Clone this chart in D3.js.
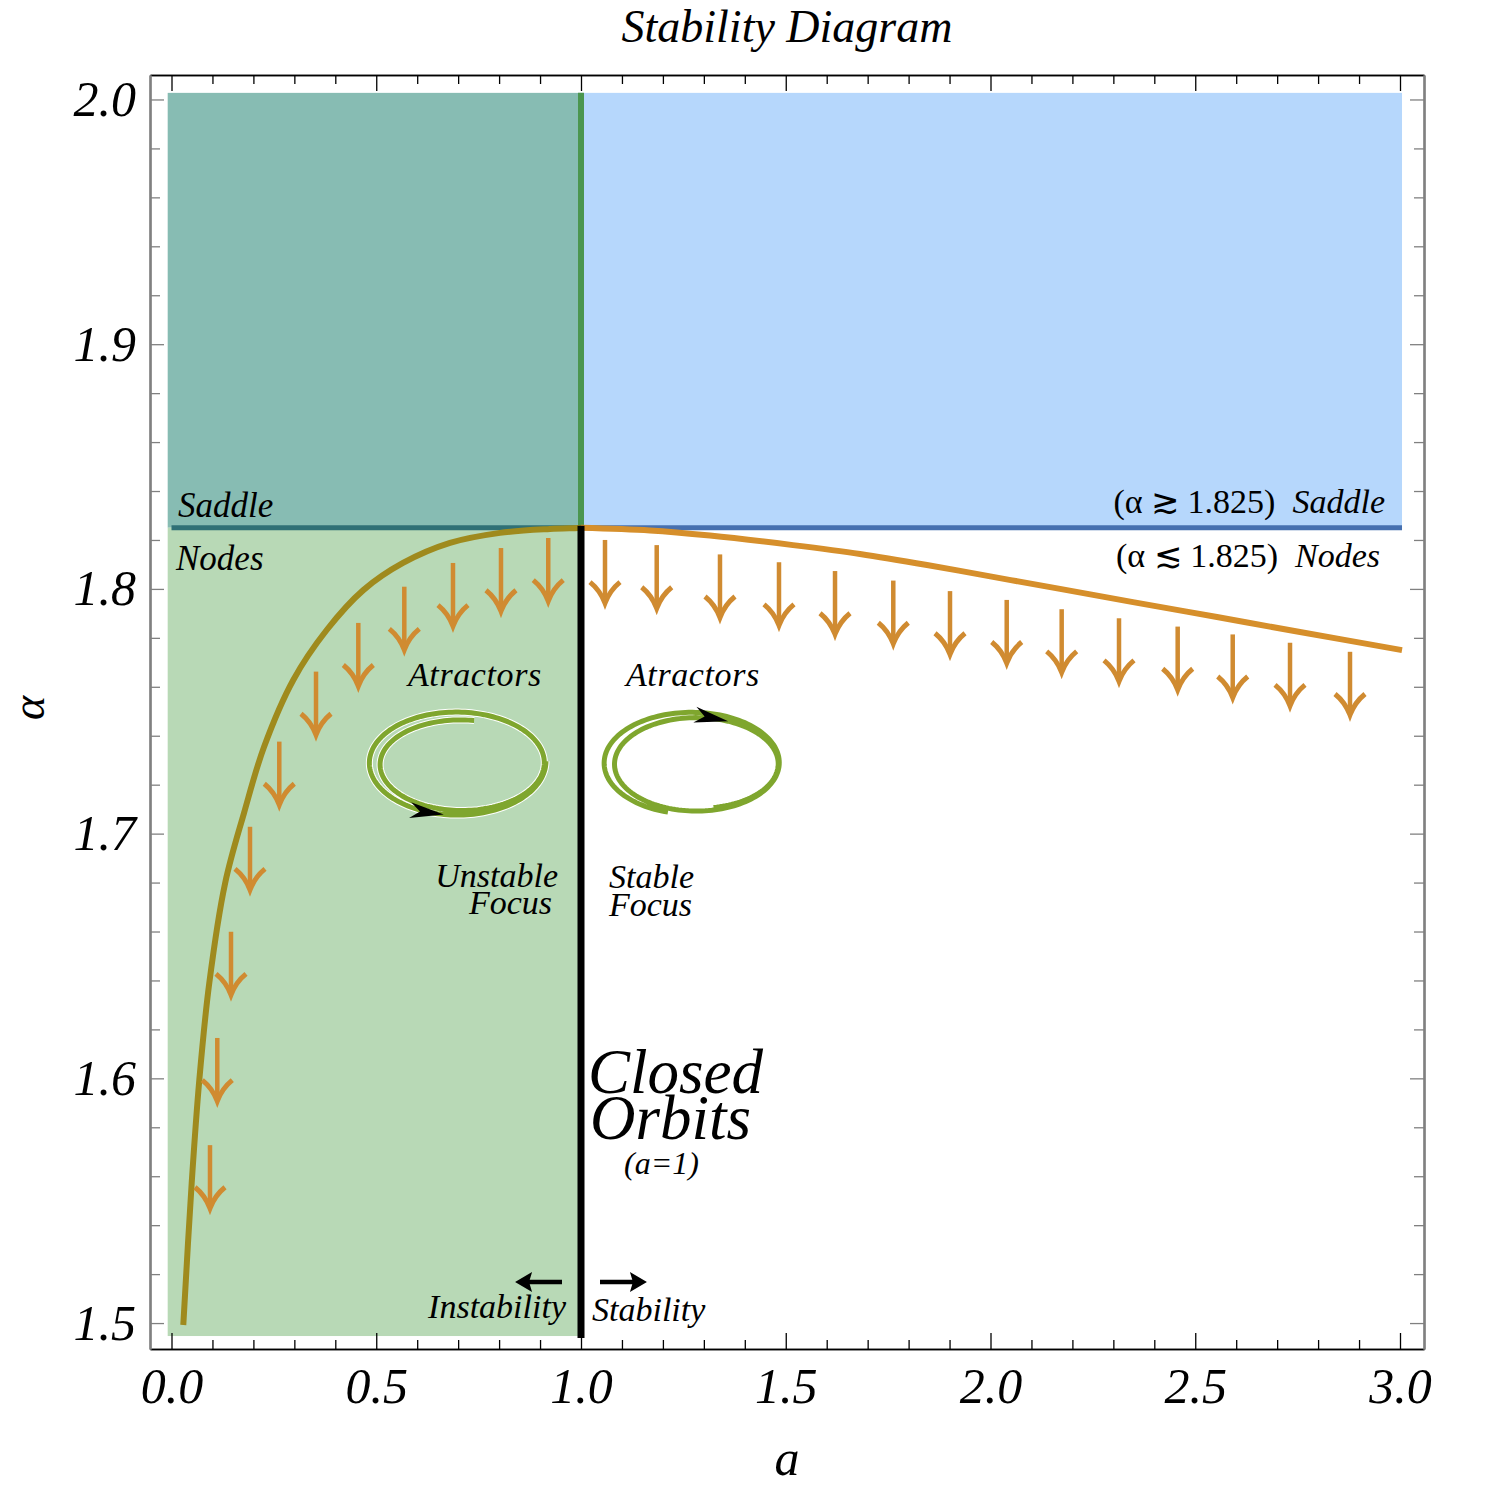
<!DOCTYPE html>
<html>
<head>
<meta charset="utf-8">
<script src="https://cdn.jsdelivr.net/npm/d3@7"></script>
<style>
  html, body { margin: 0; padding: 0; background: #fff; }
  svg { display: block; }
  text { font-family: "Liberation Serif", "Times New Roman", "DejaVu Serif", serif; }
</style>
</head>
<body>
<div id="chart"></div>
<script>
(function (d3) {
    "use strict";

    /***** Data *****/

    // tick values
    const xMajorTicks = [0, 0.5, 1.0, 1.5, 2.0, 2.5, 3.0];
    const xMinorTicks = [0.1, 0.2, 0.3, 0.4, 0.6, 0.7, 0.8, 0.9, 1.1, 1.2, 1.3, 1.4,
                         1.6, 1.7, 1.8, 1.9, 2.1, 2.2, 2.3, 2.4, 2.6, 2.7, 2.8, 2.9];
    const yMajorTicks = [1.5, 1.6, 1.7, 1.8, 1.9, 2.0];
    const yMinorTicks = [1.52, 1.54, 1.56, 1.58, 1.62, 1.64, 1.66, 1.68, 1.72, 1.74, 1.76, 1.78,
                         1.82, 1.84, 1.86, 1.88, 1.92, 1.94, 1.96, 1.98];

    // critical values
    const aCritical = 1.0;
    const alphaSaddle = 1.825;

    // shaded regions [a0, a1, alpha0, alpha1]
    const regionTeal  = [-0.0093, 1.0, 1.825, 2.0027];
    const regionGreen = [-0.0093, 1.0, 1.4947, 1.825];
    const regionBlue  = [1.0, 3.0049, 1.825, 2.0027];

    // boundary curve, a < 1 part
    const curveLeft = [
        [0.0288, 1.4992], [0.0493, 1.5572], [0.0679, 1.5993], [0.0923, 1.6390],
        [0.1310, 1.6798], [0.1770, 1.7084], [0.2259, 1.7354], [0.2974, 1.7628],
        [0.3790, 1.7832], [0.4684, 1.7995], [0.5653, 1.8106], [0.6801, 1.8188],
        [0.8022, 1.8229], [0.9243, 1.8245], [0.9927, 1.8249], [1.0, 1.825]
    ];
    // boundary curve, a > 1 part
    const curveRight = [
        [1.0, 1.825], [1.1685, 1.8239], [1.3150, 1.8218], [1.5177, 1.8179],
        [1.6813, 1.8143], [1.8449, 1.8098], [2.0061, 1.8049], [2.1697, 1.8000],
        [2.3480, 1.7946], [2.5531, 1.7885], [2.7558, 1.7824], [3.0049, 1.7750]
    ];

    // down arrows below the curve: [a, alpha of tail]
    const arrowsLeft = [
        [0.920, 1.8208], [0.8046, 1.8167], [0.6874, 1.8106], [0.5685, 1.8009],
        [0.4562, 1.7861], [0.3529, 1.7662], [0.2632, 1.7376], [0.1917, 1.7028],
        [0.1453, 1.6599], [0.1118, 1.6165], [0.0940, 1.5727]
    ];
    const arrowsRight = [
        [1.0586, 1.8200], [1.1849, 1.8179], [1.3394, 1.8141], [1.4835, 1.8109],
        [1.6203, 1.8073], [1.7626, 1.8034], [1.9011, 1.7991], [2.0396, 1.7955],
        [2.1738, 1.7917], [2.3138, 1.7880], [2.4571, 1.7846], [2.5915, 1.7814],
        [2.7314, 1.7780], [2.8779, 1.7743]
    ];
    const arrowLength = 0.0258;   // in alpha units

    // stability arrows at the bottom: [a from, a to, alpha]
    const stabilityArrows = [
        [0.9536, 0.839, 1.5168],
        [1.0464, 1.161, 1.5168]
    ];

    /***** Configuration *****/

    const width = 1500;
    const height = 1487;
    const frame = { left: 150, right: 1424, top: 75, bottom: 1349 };

    const colors = {
        teal: "#87bcb3",
        green: "#b8d9b6",
        blue: "#b6d7fc",
        greenLine: "#4b964f",
        saddleLeft: "#2f7076",
        saddleRight: "#4670b0",
        curveLeft: "#9f8a1d",
        curveRight: "#d68f2b",
        arrow: "#d08b31",
        spiral: "#7fa62e",
        gray: "#808080"
    };

    /***** Scales *****/

    const x = d3.scaleLinear().domain([-0.0525, 3.0586]).range([frame.left, frame.right]);
    const y = d3.scaleLinear().domain([1.4894, 2.0100]).range([frame.bottom, frame.top]);

    const svg = d3.select("#chart").append("svg")
        .attr("width", width)
        .attr("height", height);

    /***** Regions *****/

    function region(r, color) {
        svg.append("rect")
            .attr("x", x(r[0]))
            .attr("y", y(r[3]))
            .attr("width", x(r[1]) - x(r[0]))
            .attr("height", y(r[2]) - y(r[3]))
            .attr("fill", color);
    }
    region(regionTeal, colors.teal);
    region(regionGreen, colors.green);
    region(regionBlue, colors.blue);

    /***** Saddle line and a = 1 line *****/

    svg.append("line")
        .attr("x1", x(0)).attr("x2", x(aCritical))
        .attr("y1", y(alphaSaddle)).attr("y2", y(alphaSaddle))
        .attr("stroke", colors.saddleLeft).attr("stroke-width", 5);
    svg.append("line")
        .attr("x1", x(aCritical)).attr("x2", x(3.0049))
        .attr("y1", y(alphaSaddle)).attr("y2", y(alphaSaddle))
        .attr("stroke", colors.saddleRight).attr("stroke-width", 5);

    svg.append("line")
        .attr("x1", x(aCritical)).attr("x2", x(aCritical))
        .attr("y1", y(2.0027)).attr("y2", y(alphaSaddle))
        .attr("stroke", colors.greenLine).attr("stroke-width", 6);

    /***** Curves *****/

    const line = d3.line()
        .x(d => x(d[0]))
        .y(d => y(d[1]))
        .curve(d3.curveCatmullRom.alpha(0.5));

    svg.append("path")
        .datum(curveRight)
        .attr("d", line)
        .attr("fill", "none")
        .attr("stroke", colors.curveRight)
        .attr("stroke-width", 6);

    svg.append("path")
        .datum(curveLeft)
        .attr("d", line)
        .attr("fill", "none")
        .attr("stroke", colors.curveLeft)
        .attr("stroke-width", 6);

    svg.append("line")
        .attr("x1", x(aCritical)).attr("x2", x(aCritical))
        .attr("y1", y(alphaSaddle) - 2).attr("y2", y(1.4939))
        .attr("stroke", "#000").attr("stroke-width", 7);

    /***** Down arrows *****/

    function downArrow(d) {
        var xs = x(d[0]);
        var y0 = y(d[1]);
        var y1 = y(d[1] - arrowLength);
        var g = svg.append("g")
            .attr("fill", "none")
            .attr("stroke", colors.arrow);
        g.append("line")
            .attr("stroke-width", 4.5)
            .attr("x1", xs).attr("x2", xs)
            .attr("y1", y0).attr("y2", y1 - 3);
        g.append("path")
            .attr("stroke-width", 5)
            .attr("stroke-linejoin", "miter")
            .attr("d", "M" + (xs - 15) + "," + (y1 - 21) +
                       "Q" + (xs - 5) + "," + (y1 - 13) + " " + xs + "," + y1 +
                       "Q" + (xs + 5) + "," + (y1 - 13) + " " + (xs + 15) + "," + (y1 - 21));
    }
    arrowsLeft.forEach(downArrow);
    arrowsRight.forEach(downArrow);

    /***** Spirals (focus pictograms) *****/

    function stealth(px, py, angle) {
        svg.append("path")
            .attr("d", "M0,0 L-34,-8 L-24,0 L-34,8 Z")
            .attr("fill", "#000")
            .attr("transform", "translate(" + px + "," + py + ") rotate(" + angle + ")");
    }

    function spiral(s) {
        var cx0 = x(s.a0), cy0 = y(s.alpha0);
        var cx1 = x(s.a1), cy1 = y(s.alpha1);
        var pt = function (t) {
            var th = (s.th0 + (s.th1 - s.th0) * t) * Math.PI / 180;
            var cx = cx0 + (cx1 - cx0) * t, cy = cy0 + (cy1 - cy0) * t;
            var rx = s.rx0 + (s.rx1 - s.rx0) * t, ry = s.ry0 + (s.ry1 - s.ry0) * t;
            return [cx + rx * Math.cos(th), cy + ry * Math.sin(th)];
        };
        var pts = d3.range(0, 301).map(i => pt(i / 300));
        var p = d3.line();
        svg.append("path").attr("d", p(pts))
            .attr("fill", "none").attr("stroke", "#fff").attr("stroke-width", 7)
            .attr("stroke-linecap", "butt");
        svg.append("path").attr("d", p(pts))
            .attr("fill", "none").attr("stroke", colors.spiral).attr("stroke-width", 5)
            .attr("stroke-linecap", "butt");
        var ta = (s.thArrow - s.th0) / (s.th1 - s.th0);
        var a = pt(ta), b = pt(ta - 0.01);
        var ang = Math.atan2(a[1] - b[1], a[0] - b[0]) * 180 / Math.PI;
        stealth(a[0], a[1], ang);
    }

    // unstable focus (expanding, counter-clockwise on screen)
    spiral({ a0: 0.7119, alpha0: 1.7284, a1: 0.6923, alpha1: 1.7296,
             rx0: 80, rx1: 91, ry0: 44, ry1: 55, th0: 278, th1: -360, thArrow: -262 });
    // stable focus (contracting, clockwise on screen)
    spiral({ a0: 1.2686, alpha0: 1.7293, a1: 1.2906, alpha1: 1.7284,
             rx0: 89, rx1: 78, ry0: 52, ry1: 44, th0: 105, th1: 800, thArrow: 652 });

    /***** Stability arrows *****/

    stabilityArrows.forEach(function (d) {
        var x0 = x(d[0]), x1 = x(d[1]), yy = y(d[2]);
        var dir = x1 > x0 ? 1 : -1;
        svg.append("line")
            .attr("x1", x0).attr("x2", x1 - dir * 12)
            .attr("y1", yy).attr("y2", yy)
            .attr("stroke", "#000").attr("stroke-width", 4.5);
        svg.append("path")
            .attr("d", "M0,0 L-17,-10 L-14,0 L-17,10 Z")
            .attr("fill", "#000")
            .attr("transform", "translate(" + x1 + "," + yy + ") rotate(" + (dir > 0 ? 0 : 180) + ")");
    });

    /***** Axes and frame *****/

    function axisGroup(axis, tx, ty, color, width) {
        var g = svg.append("g")
            .attr("transform", "translate(" + tx + "," + ty + ")")
            .call(axis);
        g.select(".domain").attr("stroke", color).attr("stroke-width", width);
        g.selectAll(".tick line").attr("stroke", color).attr("stroke-width", 1.3);
        return g;
    }

    const fmt = d3.format(".1f");
    const tickFont = "50px";

    // bottom
    var gb = axisGroup(d3.axisBottom(x).tickValues(xMajorTicks).tickSizeInner(-16)
        .tickSizeOuter(0).tickPadding(18).tickFormat(fmt), 0, frame.bottom, "#000", 1.6);
    axisGroup(d3.axisBottom(x).tickValues(xMinorTicks).tickSizeInner(-9)
        .tickSizeOuter(0).tickFormat(""), 0, frame.bottom, "#000", 1.6);
    // top
    axisGroup(d3.axisTop(x).tickValues(xMajorTicks).tickSizeInner(-16)
        .tickSizeOuter(0).tickFormat(""), 0, frame.top, "#000", 1.6);
    axisGroup(d3.axisTop(x).tickValues(xMinorTicks).tickSizeInner(-9)
        .tickSizeOuter(0).tickFormat(""), 0, frame.top, "#000", 1.6);
    // left
    var gl = axisGroup(d3.axisLeft(y).tickValues(yMajorTicks).tickSizeInner(-14)
        .tickSizeOuter(0).tickPadding(14).tickFormat(fmt), frame.left, 0, colors.gray, 2.2);
    axisGroup(d3.axisLeft(y).tickValues(yMinorTicks).tickSizeInner(-10)
        .tickSizeOuter(0).tickFormat(""), frame.left, 0, colors.gray, 2.2);
    // right
    axisGroup(d3.axisRight(y).tickValues(yMajorTicks).tickSizeInner(-14)
        .tickSizeOuter(0).tickFormat(""), frame.right, 0, colors.gray, 2.2);
    axisGroup(d3.axisRight(y).tickValues(yMinorTicks).tickSizeInner(-10)
        .tickSizeOuter(0).tickFormat(""), frame.right, 0, colors.gray, 2.2);

    [gb, gl].forEach(function (g) {
        g.selectAll(".tick text")
            .attr("fill", "#000")
            .style("font-family", "'Liberation Serif', 'Times New Roman', serif")
            .style("font-style", "italic")
            .style("font-size", tickFont);
    });

    /***** Text *****/

    function label(txt, px, py, size, opts) {
        opts = opts || {};
        var t = svg.append("text")
            .attr("x", px).attr("y", py)
            .attr("text-anchor", opts.anchor || "start")
            .style("font-size", size + "px")
            .style("font-style", opts.upright ? "normal" : "italic")
            .attr("fill", "#000")
            .text(txt);
        if (opts.transform) t.attr("transform", opts.transform);
        return t;
    }

    label("Stability Diagram", 787, 42, 46, { anchor: "middle" });
    label("a", 787, 1475, 50, { anchor: "middle" });
    label("α", 0, 0, 46, { anchor: "middle", transform: "translate(44,708) rotate(-90)" });

    label("Saddle", 178, 517, 35);
    label("Nodes", 176, 570, 35);

    var ts = svg.append("text").attr("x", 1385).attr("y", 513)
        .attr("text-anchor", "end").style("font-size", "34px").attr("fill", "#000");
    ts.append("tspan").text("(α \u2273 1.825)\u2002");
    ts.append("tspan").style("font-style", "italic").text("Saddle");

    var tn = svg.append("text").attr("x", 1380).attr("y", 567)
        .attr("text-anchor", "end").style("font-size", "34px").attr("fill", "#000");
    tn.append("tspan").text("(α \u2272 1.825)\u2002");
    tn.append("tspan").style("font-style", "italic").text("Nodes");

    label("Atractors", 408, 686, 34).attr("letter-spacing", 0.6);
    label("Atractors", 626, 686, 34).attr("letter-spacing", 0.6);

    label("Unstable", 558, 887, 34, { anchor: "end" });
    label("Focus", 552, 914, 34, { anchor: "end" });
    label("Stable", 609, 888, 34);
    label("Focus", 609, 916, 34);

    label("Closed", 588, 1093, 63);
    label("Orbits", 590, 1139, 63);
    label("(a=1)", 624, 1174, 32);

    label("Instability", 566, 1318, 34, { anchor: "end" });
    label("Stability", 592, 1321, 34);

})(d3);
</script>
</body>
</html>
